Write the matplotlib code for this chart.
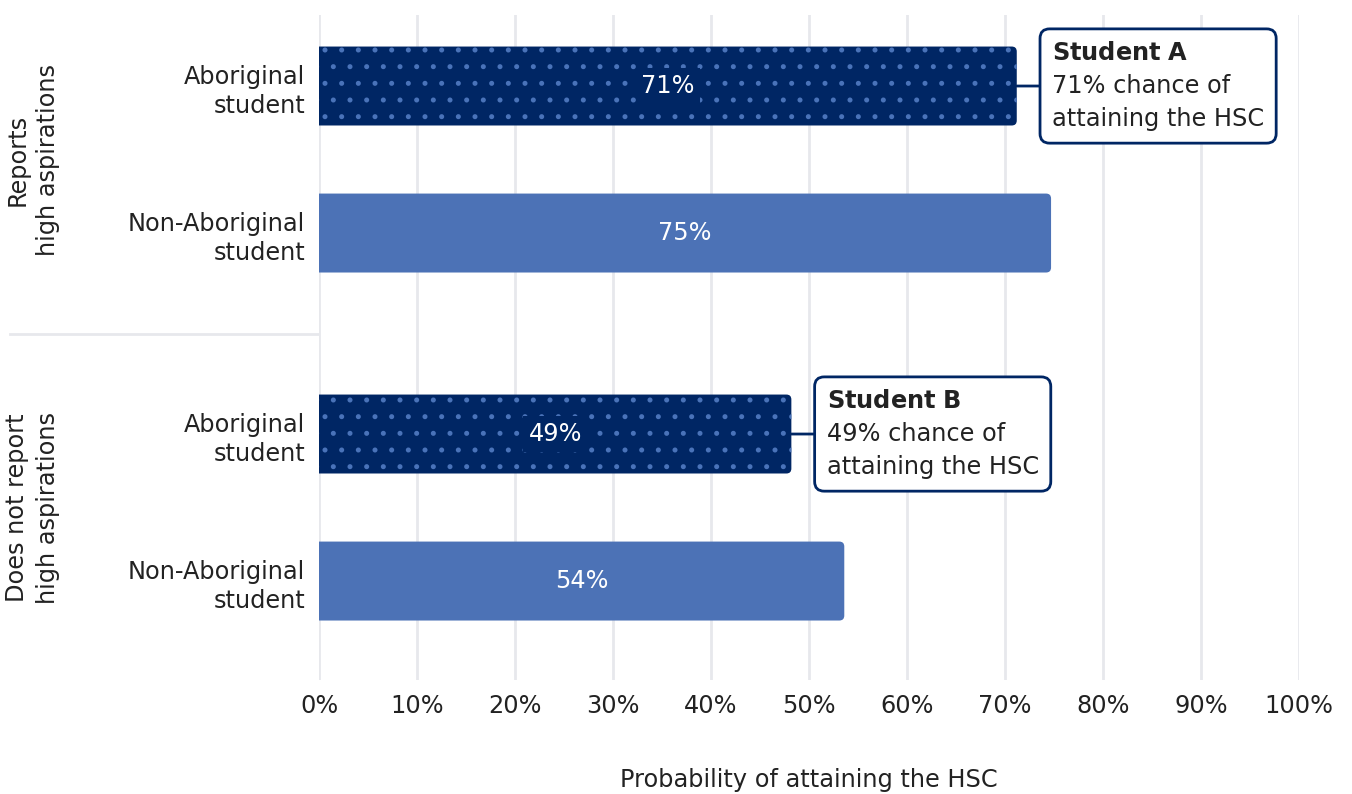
import matplotlib
matplotlib.use("Agg")
import matplotlib.pyplot as plt
from matplotlib.transforms import blended_transform_factory
from matplotlib.lines import Line2D
from matplotlib.patches import FancyBboxPatch

# ---------------- data ----------------
groups = ["Reports\nhigh aspirations", "Does not report\nhigh aspirations"]
categories = ["Aboriginal\nstudent", "Non-Aboriginal\nstudent",
              "Aboriginal\nstudent", "Non-Aboriginal\nstudent"]
group_of_bar = [0, 0, 1, 1]
values = [71.2, 74.7, 48.2, 53.6]
bar_labels = ["71%", "75%", "49%", "54%"]
is_aboriginal = [True, False, True, False]
callout_titles = ["Student A", None, "Student B", None]
callout_texts = ["71% chance of\nattaining the HSC", None,
                 "49% chance of\nattaining the HSC", None]
x_ticks = [0, 10, 20, 30, 40, 50, 60, 70, 80, 90, 100]
x_tick_labels = ["0%", "10%", "20%", "30%", "40%", "50%",
                 "60%", "70%", "80%", "90%", "100%"]
x_label = "Probability of attaining the HSC"

# ---------------- style ----------------
plt.rcParams['font.family'] = ['DejaVu Sans']
plt.rcParams['mathtext.fontset'] = 'dejavusans'
plt.rcParams['hatch.linewidth'] = 1.2

NAVY = '#002664'
LIGHT = '#4C72B6'
DOT = '#4A73B9'
GRID = '#E7E8EC'
TXT = '#222222'
FS = 17.3

fig = plt.figure(figsize=(13.52, 7.94), dpi=100)
ax = fig.add_axes([319 / 1352, 1 - 680 / 794, 980 / 1352, 665 / 794])

group_gap = 1.367
positions = [i + (group_gap - 1) * g for i, g in enumerate(group_of_bar)]
bar_h = 0.537

ax.set_xlim(0, 100)
ax.set_ylim(positions[-1] + 0.673, positions[0] - 0.483)

# aspect ratio (data-y per data-x for equal pixel lengths) for round corners
fig.canvas.draw()
p0 = ax.transData.transform((0, 0))
p1 = ax.transData.transform((1, 1))
px_per_x = abs(p1[0] - p0[0])
px_per_y = abs(p1[1] - p0[1])
corner_px = 5.0

for pos, v, lab, abo in zip(positions, values, bar_labels, is_aboriginal):
    if abo:
        bars = ax.barh(pos, v, height=bar_h, color=NAVY, edgecolor=DOT,
                       linewidth=0, hatch='.', zorder=2)
    else:
        bars = ax.barh(pos, v, height=bar_h, color=LIGHT, linewidth=0,
                       zorder=2)
    # rounded right end (left end extends past the axis and is clipped)
    for r in bars:
        r.set_visible(False)
        x0, y0, w, h = r.get_x(), r.get_y(), r.get_width(), r.get_height()
        ext = 2 * corner_px / px_per_x
        fb = FancyBboxPatch((x0 - ext, y0), w + ext, h,
                            boxstyle="round,pad=0,rounding_size=%f"
                            % (corner_px / px_per_x),
                            mutation_aspect=px_per_x / px_per_y,
                            facecolor=NAVY if abo else LIGHT,
                            edgecolor=DOT if abo else 'none',
                            linewidth=0, hatch='.' if abo else None,
                            zorder=2)
        ax.add_patch(fb)
    bbox = dict(facecolor=NAVY, edgecolor='none', pad=4) if abo else None
    ax.text(v / 2, pos, lab, ha='center', va='center', color='white',
            fontsize=FS, zorder=4, bbox=bbox)

for pos, v, t, body in zip(positions, values, callout_titles, callout_texts):
    if t is None:
        continue
    title = r"$\bf{" + t.replace(" ", r"\ ") + "}$"
    ax.annotate(title + "\n" + body, xy=(v, pos), xytext=(v + 3.6, pos),
                ha='left', va='center', fontsize=FS, color=TXT,
                linespacing=1.48, zorder=5,
                bbox=dict(boxstyle='round,pad=0.5,rounding_size=0.4',
                          facecolor='white', edgecolor=NAVY, linewidth=2),
                arrowprops=dict(arrowstyle='-', color=NAVY, lw=2,
                                shrinkA=0, shrinkB=0))

ax.set_xticks(x_ticks)
ax.set_xticklabels(x_tick_labels, fontsize=FS, color=TXT)
ax.set_yticks(positions)
ax.set_yticklabels(categories, fontsize=FS, color=TXT, linespacing=1.3)
for lbl in ax.get_yticklabels():
    lbl.set_multialignment('right')
ax.tick_params(axis='both', length=0)
ax.tick_params(axis='x', pad=10)
ax.tick_params(axis='y', pad=10)
ax.grid(axis='x', color=GRID, linewidth=2)
ax.set_axisbelow(True)
for s in ax.spines.values():
    s.set_visible(False)
ax.set_xlabel(x_label, fontsize=FS, color=TXT, labelpad=36)

# group labels and separator
bt = blended_transform_factory(fig.transFigure, ax.transData)
for gi, g in enumerate(groups):
    ys = [p for p, gb in zip(positions, group_of_bar) if gb == gi]
    ax.text(32.5 / 1352, sum(ys) / len(ys), g, transform=bt, rotation=90,
            ha='center', va='center', fontsize=FS, color=TXT,
            multialignment='center', linespacing=1.35)
sep_y = (positions[1] + positions[2]) / 2
fig.add_artist(Line2D([10 / 1352, 318 / 1352], [sep_y, sep_y], transform=bt,
                      color=GRID, linewidth=2))

fig.savefig("out.png", dpi=100)
